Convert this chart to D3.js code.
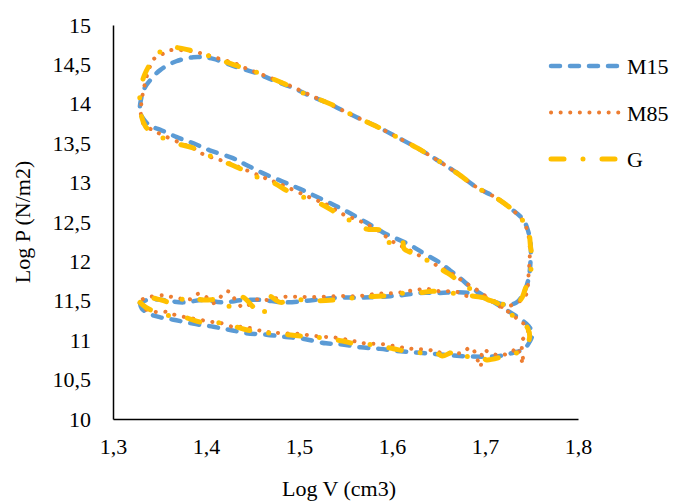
<!DOCTYPE html>
<html>
<head>
<meta charset="utf-8">
<script src="https://cdn.jsdelivr.net/npm/d3@7"></script>
<style>
  body { margin: 0; background: #fff; }
  svg text { font-family: "Liberation Serif", "Times New Roman", serif; fill: #000; }
</style>
</head>
<body>
<svg id="chart" width="675" height="502"></svg>
<script>
// axis ticks
const xTicks = [1.3, 1.4, 1.5, 1.6, 1.7, 1.8]
const yTicks = [10, 10.5, 11, 11.5, 12, 12.5, 13, 13.5, 14, 14.5, 15]

// [log V, log P], in cycle order
const m15 = [
  [1.329,11.47],[1.331,11.40],[1.340,11.33],[1.351,11.29],[1.365,11.26],[1.386,11.21],[1.408,11.17],
  [1.426,11.13],[1.443,11.09],[1.465,11.07],[1.486,11.04],[1.504,11.02],[1.529,10.96],[1.544,10.95],
  [1.566,10.91],[1.587,10.89],[1.609,10.86],[1.630,10.84],[1.652,10.82],[1.673,10.80],[1.695,10.79],
  [1.716,10.80],[1.730,10.84],[1.742,10.89],[1.748,10.98],[1.751,11.08],[1.747,11.18],[1.739,11.26],
  [1.725,11.37],[1.711,11.47],[1.698,11.57],[1.686,11.66],[1.673,11.79],[1.662,11.89],[1.652,11.98],
  [1.633,12.11],[1.619,12.21],[1.590,12.37],[1.573,12.49],[1.555,12.61],[1.537,12.72],[1.519,12.82],
  [1.501,12.92],[1.483,13.01],[1.461,13.12],[1.444,13.22],[1.429,13.31],[1.404,13.41],[1.386,13.50],
  [1.368,13.58],[1.351,13.67],[1.340,13.72],[1.332,13.82],[1.329,13.92],
  [1.330,14.05],[1.334,14.20],[1.340,14.30],[1.351,14.43],[1.368,14.54],[1.386,14.59],[1.397,14.59],
  [1.408,14.57],[1.432,14.47],[1.454,14.39],[1.472,14.30],[1.494,14.20],[1.512,14.10],[1.529,14.02],
  [1.541,13.95],[1.562,13.83],[1.584,13.71],[1.605,13.58],[1.627,13.44],[1.648,13.29],[1.670,13.12],
  [1.691,12.94],[1.713,12.80],[1.730,12.65],[1.741,12.53],[1.746,12.40],[1.749,12.23],[1.749,12.02],
  [1.747,11.79],[1.742,11.61],[1.734,11.48],[1.722,11.45],
  [1.705,11.51],[1.687,11.59],[1.670,11.61],[1.652,11.60],[1.630,11.60],[1.609,11.57],[1.587,11.55],
  [1.566,11.54],[1.544,11.54],[1.523,11.52],[1.508,11.50],[1.483,11.48],[1.461,11.51],[1.440,11.51],
  [1.418,11.48],[1.397,11.51],[1.375,11.48],[1.354,11.51],[1.340,11.52],[1.330,11.48],[1.329,11.47]
]

const m85 = [
  [1.329,11.47],[1.332,11.41],[1.345,11.36],[1.357,11.36],[1.367,11.32],[1.408,11.23],[1.415,11.22],
  [1.429,11.17],[1.440,11.17],[1.459,11.12],[1.469,11.10],[1.480,11.09],[1.499,11.08],[1.520,11.05],
  [1.541,11.03],[1.558,10.99],[1.571,10.96],[1.590,10.95],[1.609,10.91],[1.622,10.89],[1.639,10.88],
  [1.648,10.85],[1.666,10.84],[1.676,10.84],[1.684,10.91],[1.689,10.85],[1.695,10.66],[1.698,10.88],
  [1.705,10.84],[1.716,10.81],[1.729,10.85],[1.734,10.91],[1.741,10.70],[1.740,11.00],[1.746,11.07],
  [1.745,11.17],[1.738,11.24],
  [1.724,11.37],[1.709,11.48],[1.695,11.61],[1.676,11.75],[1.665,11.84],[1.648,11.95],[1.630,12.07],
  [1.616,12.16],[1.601,12.25],[1.584,12.40],[1.566,12.51],[1.547,12.60],[1.530,12.72],[1.510,12.82],
  [1.482,12.97],[1.461,13.07],[1.433,13.21],[1.422,13.26],[1.397,13.36],[1.386,13.44],[1.373,13.50],
  [1.354,13.60],[1.342,13.67],[1.333,13.74],[1.330,13.87],
  [1.331,14.05],[1.334,14.24],[1.339,14.45],[1.344,14.57],[1.353,14.63],[1.362,14.68],[1.375,14.68],
  [1.384,14.67],[1.395,14.64],[1.404,14.61],[1.418,14.56],[1.432,14.51],[1.445,14.44],[1.465,14.35],
  [1.480,14.28],[1.494,14.21],[1.512,14.11],[1.529,14.02],[1.562,13.83],[1.584,13.71],[1.605,13.58],
  [1.627,13.44],[1.648,13.29],[1.670,13.12],[1.691,12.94],[1.713,12.80],[1.730,12.65],[1.741,12.51],
  [1.746,12.37],[1.748,12.21],[1.748,12.02],[1.747,11.87],[1.746,11.68],[1.743,11.55],[1.735,11.48],
  [1.719,11.42],
  [1.708,11.51],[1.697,11.56],[1.681,11.56],[1.668,11.62],[1.652,11.62],[1.638,11.65],[1.627,11.64],
  [1.605,11.60],[1.585,11.59],[1.563,11.56],[1.542,11.56],[1.520,11.55],[1.501,11.55],[1.483,11.55],
  [1.465,11.51],[1.456,11.52],[1.440,11.42],[1.432,11.50],[1.427,11.60],[1.422,11.62],[1.408,11.47],
  [1.400,11.55],[1.392,11.59],[1.383,11.52],[1.363,11.55],[1.354,11.57],[1.340,11.55],[1.332,11.52],
  [1.329,11.47]
]

const g = [
  [1.329,11.48],[1.335,11.42],[1.345,11.36],[1.357,11.32],[1.377,11.29],[1.394,11.23],[1.415,11.22],
  [1.432,11.17],[1.448,11.12],[1.469,11.09],[1.488,11.07],[1.504,11.05],[1.524,11.03],[1.547,10.99],
  [1.558,10.96],[1.580,10.94],[1.598,10.90],[1.606,10.88],[1.627,10.84],[1.646,10.85],[1.654,10.80],
  [1.665,10.84],[1.673,10.77],[1.687,10.81],[1.698,10.77],[1.702,10.75],[1.719,10.79],[1.734,10.84],
  [1.740,10.88],[1.746,10.96],[1.748,11.05],[1.746,11.15],[1.740,11.23],
  [1.724,11.36],[1.713,11.47],[1.702,11.52],[1.691,11.60],[1.673,11.74],[1.660,11.85],[1.641,11.98],
  [1.633,12.06],[1.619,12.12],[1.613,12.16],[1.611,12.27],[1.603,12.31],[1.595,12.23],[1.589,12.39],
  [1.573,12.41],[1.553,12.53],[1.541,12.61],[1.525,12.72],[1.504,12.82],[1.490,12.88],[1.472,13.00],
  [1.453,13.08],[1.440,13.16],[1.402,13.35],[1.386,13.44],[1.367,13.50],[1.348,13.60],[1.335,13.71],
  [1.329,13.96],
  [1.330,14.20],[1.334,14.37],[1.343,14.56],[1.353,14.68],[1.361,14.72],[1.375,14.70],[1.395,14.64],
  [1.415,14.56],[1.431,14.49],[1.448,14.43],[1.469,14.33],[1.483,14.26],[1.502,14.15],[1.523,14.05],
  [1.537,13.98],[1.562,13.83],[1.584,13.71],[1.605,13.58],[1.627,13.44],[1.648,13.29],[1.670,13.12],
  [1.691,12.94],[1.713,12.80],[1.730,12.65],[1.741,12.51],[1.747,12.37],[1.749,12.18],[1.751,12.02],
  [1.747,11.79],[1.743,11.64],[1.738,11.51],[1.724,11.45],
  [1.713,11.48],[1.698,11.54],[1.681,11.57],[1.662,11.60],[1.644,11.62],[1.627,11.60],[1.605,11.59],
  [1.590,11.56],[1.569,11.55],[1.537,11.51],[1.513,11.50],[1.494,11.52],[1.480,11.48],[1.467,11.56],
  [1.461,11.31],[1.451,11.42],[1.438,11.55],[1.427,11.42],[1.418,11.51],[1.397,11.51],[1.377,11.55],
  [1.370,11.45],[1.352,11.51],[1.335,11.54],[1.329,11.48]
]

const seriesNames = ['M15', 'M85', 'G']
const seriesData = [m15, m85, g]
const colors = ['#5B9BD5', '#ED7D31', '#FFC000']
const dashes = ['9,10', '0.1,9.5', '13,19,0,19']
const widths = [4.5, 4, 5]

const margin = {top: 25, right: 97, bottom: 83, left: 113}
const width = 675 - margin.left - margin.right
const height = 502 - margin.top - margin.bottom

const svg = d3.select('#chart')
const plot = svg.append('g')
    .attr('transform', 'translate(' + margin.left + ',' + margin.top + ')')

const x = d3.scaleLinear().domain([1.3, 1.8]).range([0, width])
const y = d3.scaleLinear().domain([10, 15]).range([height, 0])
const fmt = d => String(d).replace('.', ',')

// y axis
const yAxis = plot.append('g')
    .call(d3.axisLeft(y).tickValues(yTicks).tickSize(0).tickPadding(22).tickFormat(fmt))
yAxis.select('.domain').attr('stroke', '#000').attr('stroke-width', 1.5)
yAxis.selectAll('text').attr('font-size', 22).attr('font-family', null)

// x axis
const xAxis = plot.append('g')
    .attr('transform', 'translate(0,' + height + ')')
    .call(d3.axisBottom(x).tickValues(xTicks).tickSize(0).tickPadding(19).tickFormat(fmt))
xAxis.select('.domain').attr('stroke', '#000').attr('stroke-width', 1.5)
xAxis.selectAll('text').attr('font-size', 22).attr('font-family', null)

const line = d3.line()
    .x(d => x(d[0]))
    .y(d => y(d[1]))
    .curve(d3.curveCatmullRom.alpha(0.5))

seriesData.forEach((data, i) => {
  plot.append('path')
      .datum(data)
      .attr('fill', 'none')
      .attr('stroke', colors[i])
      .attr('stroke-width', widths[i])
      .attr('stroke-linecap', 'round')
      .attr('stroke-linejoin', 'round')
      .attr('stroke-dasharray', dashes[i])
      .attr('d', line)
})

// axis titles
svg.append('text')
    .attr('x', 339)
    .attr('y', 496)
    .attr('text-anchor', 'middle')
    .attr('font-size', 22)
    .text('Log V (cm3)')

svg.append('text')
    .attr('transform', 'translate(30,222) rotate(-90)')
    .attr('text-anchor', 'middle')
    .attr('font-size', 22)
    .text('Log P (N/m2)')

// legend
const legend = svg.append('g')
seriesNames.forEach((name, i) => {
  const ly = 66 + i * 46.5
  legend.append('line')
      .attr('x1', 551).attr('x2', 620)
      .attr('y1', ly).attr('y2', ly)
      .attr('stroke', colors[i])
      .attr('stroke-width', widths[i])
      .attr('stroke-linecap', 'round')
      .attr('stroke-dasharray', dashes[i])
  legend.append('text')
      .attr('x', 627)
      .attr('y', ly + 8)
      .attr('font-size', 22)
      .text(name)
})
</script>
</body>
</html>
